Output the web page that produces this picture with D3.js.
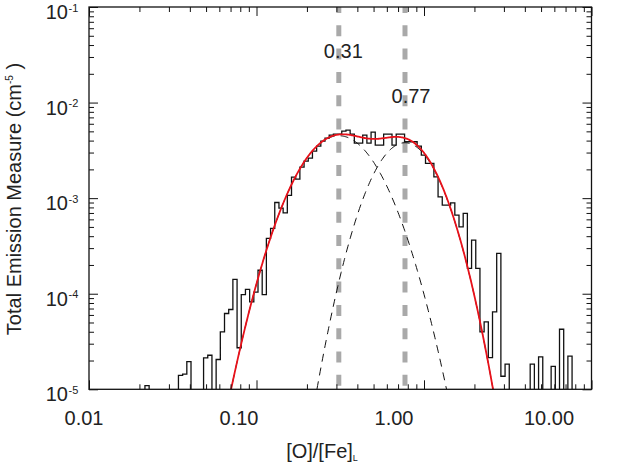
<!DOCTYPE html>
<html><head><meta charset="utf-8">
<script src="https://cdn.jsdelivr.net/npm/d3@7"></script>
<style>
body{margin:0;background:#fff}
svg{display:block}
text{font-family:"Liberation Sans",Arial,Helvetica,sans-serif;fill:#222}
</style>
</head><body>
<svg id="chart" width="623" height="467"></svg>
<script>
// ---------------- data ----------------
const binLogStart = -1.666;   // log10([O]/[Fe]) of first bin's left edge
const binLogWidth = 0.025;    // bin width in dex
const emValues = [
  1.09e-5, 0, 0, 0, 0, 0, 0, 0, 1.40e-5, 1.44e-5,
  1.95e-5, 0, 0, 0, 2.13e-5, 2.27e-5, 0, 2.05e-5, 3.98e-5, 6.21e-5,
  6.84e-5, 1.41e-4, 2.72e-5, 9.8e-5, 1.11e-4, 8.2e-5, 1.04e-4, 1.76e-4, 9.8e-5, 3.79e-4,
  4.82e-4, 9.0e-4, 7.85e-4, 7.0e-4, 1.07e-3, 1.66e-3, 1.58e-3, 2.11e-3, 2.44e-3, 2.62e-3,
  3.10e-3, 3.51e-3, 3.95e-3, 4.25e-3, 4.57e-3, 4.68e-3, 4.68e-3, 5.03e-3, 5.15e-3, 4.68e-3,
  3.77e-3, 3.77e-3, 4.57e-3, 3.77e-3, 4.91e-3, 3.59e-3, 3.59e-3, 4.68e-3, 4.68e-3, 3.59e-3,
  4.68e-3, 4.68e-3, 3.89e-3, 3.89e-3, 3.89e-3, 3.51e-3, 2.82e-3, 2.31e-3, 2.31e-3, 1.67e-3,
  1.03e-3, 8.45e-4, 8.45e-4, 8.93e-4, 6.64e-4, 5.0e-4, 6.92e-4, 1.84e-4, 3.63e-4, 1.84e-4,
  3.98e-5, 5.07e-5, 2.15e-5, 6.45e-5, 2.64e-4, 1.37e-5, 1.83e-5, 0, 0, 0,
  0, 0, 1.83e-5, 0, 2.18e-5, 0, 0, 1.74e-5, 0, 4.25e-5,
  0, 2.22e-5
];
// two-Gaussian fit (in log10 space)
const fitCenters = [0.31, 0.77];
const fitAmplitudes = [4.5e-3, 3.8e-3];
const fitSigmasDex = [0.184, 0.1525];
const markerLabels = ["0.31", "0.77"];

const xTickValues = [0.01, 0.1, 1, 10];
const xTickLabels = ["0.01", "0.10", "1.00", "10.00"];
const yTickValues = [1e-1, 1e-2, 1e-3, 1e-4, 1e-5];
const yTickExponents = ["-1", "-2", "-3", "-4", "-5"];

// ---------------- layout ----------------
const svg = d3.select("#chart");
const L = 89, R = 591.5, T = 7, B = 389.3;
const x = d3.scaleLog().domain([0.01, 10]).range([L, R]);
const y = d3.scaleLog().domain([1e-5, 1e-1]).range([B, T]);
const xLabelPos = d3.scaleLog().domain([0.01, 10]).range([84, 549]);

svg.append("defs").append("clipPath").attr("id", "plotclip")
  .append("rect").attr("x", L).attr("y", T).attr("width", R - L).attr("height", B - T);

const plot = svg.append("g").attr("clip-path", "url(#plotclip)");

// gray dashed markers
plot.selectAll("line.marker").data(fitCenters).enter().append("line")
  .attr("x1", d => x(d)).attr("x2", d => x(d))
  .attr("y1", T).attr("y2", B)
  .attr("stroke", "#a9a9a9").attr("stroke-width", 5)
  .attr("stroke-dasharray", "11,12.3").attr("stroke-dashoffset", 5);

// histogram
const histPts = [];
const below = B + 6;
emValues.forEach((v, i) => {
  const x0 = x(Math.pow(10, binLogStart + i * binLogWidth));
  const x1 = x(Math.pow(10, binLogStart + (i + 1) * binLogWidth));
  const yy = v > 0 ? y(v) : below;
  if (i === 0) histPts.push([x0, below]);
  histPts.push([x0, yy]);
  histPts.push([x1, yy]);
  if (i === emValues.length - 1) histPts.push([x1, below]);
});
plot.append("path").attr("d", d3.line()(histPts))
  .attr("fill", "none").attr("stroke", "#111").attr("stroke-width", 1.3);

// fit curves
const logGrid = d3.range(-2, 1.0001, 0.005);
function comp(k, lx) {
  const d = lx - Math.log10(fitCenters[k]);
  return fitAmplitudes[k] * Math.exp(-d * d / (2 * fitSigmasDex[k] * fitSigmasDex[k]));
}
const clampY = v => Math.max(v, 1e-7);
const fitLine = d3.line().x(d => x(Math.pow(10, d[0]))).y(d => y(clampY(d[1])));
[0, 1].forEach(k => {
  plot.append("path")
    .attr("d", fitLine(logGrid.map(lx => [lx, comp(k, lx)])))
    .attr("fill", "none").attr("stroke", "#111").attr("stroke-width", 1)
    .attr("stroke-dasharray", "8,6");
});
plot.append("path")
  .attr("d", fitLine(logGrid.map(lx => [lx, comp(0, lx) + comp(1, lx)])))
  .attr("fill", "none").attr("stroke", "#e8111a").attr("stroke-width", 1.8);

// marker labels
svg.selectAll("text.mlab").data(fitCenters).enter().append("text")
  .attr("x", (d, i) => x(d) + (i === 0 ? 4.5 : 6))
  .attr("y", (d, i) => i === 0 ? 58 : 103)
  .attr("text-anchor", "middle").attr("font-size", 20)
  .text((d, i) => markerLabels[i]);

// ---------------- axes ----------------
const xMinor = [];
[0.01, 0.1, 1].forEach(dec => { for (let m = 2; m <= 9; m++) xMinor.push(dec * m); });
const yMinor = [];
[1e-5, 1e-4, 1e-3, 1e-2].forEach(dec => { for (let m = 2; m <= 9; m++) yMinor.push(dec * m); });

function styleAxis(g) {
  g.select(".domain").remove();
  g.selectAll(".tick line").attr("stroke", "#111").attr("stroke-width", 1);
  g.selectAll(".tick text").remove();
}
const addAxis = (axis, tr) => svg.append("g").attr("transform", tr).call(axis).call(styleAxis);
addAxis(d3.axisBottom(x).tickValues(xTickValues).tickSizeInner(-9).tickSizeOuter(0), `translate(0,${B})`);
addAxis(d3.axisBottom(x).tickValues(xMinor).tickSizeInner(-5).tickSizeOuter(0), `translate(0,${B})`);
addAxis(d3.axisTop(x).tickValues(xTickValues).tickSizeInner(-9).tickSizeOuter(0), `translate(0,${T})`);
addAxis(d3.axisTop(x).tickValues(xMinor).tickSizeInner(-5).tickSizeOuter(0), `translate(0,${T})`);
addAxis(d3.axisLeft(y).tickValues(yTickValues).tickSizeInner(-9).tickSizeOuter(0), `translate(${L},0)`);
addAxis(d3.axisLeft(y).tickValues(yMinor).tickSizeInner(-5).tickSizeOuter(0), `translate(${L},0)`);
addAxis(d3.axisRight(y).tickValues(yTickValues).tickSizeInner(-9).tickSizeOuter(0), `translate(${R},0)`);
addAxis(d3.axisRight(y).tickValues(yMinor).tickSizeInner(-5).tickSizeOuter(0), `translate(${R},0)`);

svg.append("rect").attr("x", L).attr("y", T).attr("width", R - L).attr("height", B - T)
  .attr("fill", "none").attr("stroke", "#111").attr("stroke-width", 1.3);

// x tick labels
svg.selectAll("text.xt").data(xTickValues).enter().append("text")
  .attr("x", d => xLabelPos(d)).attr("y", 425)
  .attr("text-anchor", "middle").attr("font-size", 20)
  .text((d, i) => xTickLabels[i]);

// y tick labels: 10 with superscript exponent
yTickValues.forEach((v, i) => {
  svg.append("text").attr("x", 68).attr("y", y(v) + 12)
    .attr("text-anchor", "end").attr("font-size", 20).text("10");
  svg.append("text").attr("x", 68.5).attr("y", y(v) + 4.5)
    .attr("text-anchor", "start").attr("font-size", 11).text(yTickExponents[i]);
});

// x axis title
const xt = svg.append("text").attr("x", 322).attr("y", 458)
  .attr("text-anchor", "middle").attr("font-size", 20);
xt.append("tspan").text("[O]/[Fe]");
xt.append("tspan").attr("font-size", 9).attr("dy", 3).text("L");

// y axis title
const yt = svg.append("text").attr("transform", "translate(21,199) rotate(-90)")
  .attr("text-anchor", "middle").attr("font-size", 20);
yt.append("tspan").text("Total Emission Measure (cm");
yt.append("tspan").attr("font-size", 10).attr("dy", -8).text("-5");
yt.append("tspan").attr("dy", 8).text(" )");
</script>
</body></html>
